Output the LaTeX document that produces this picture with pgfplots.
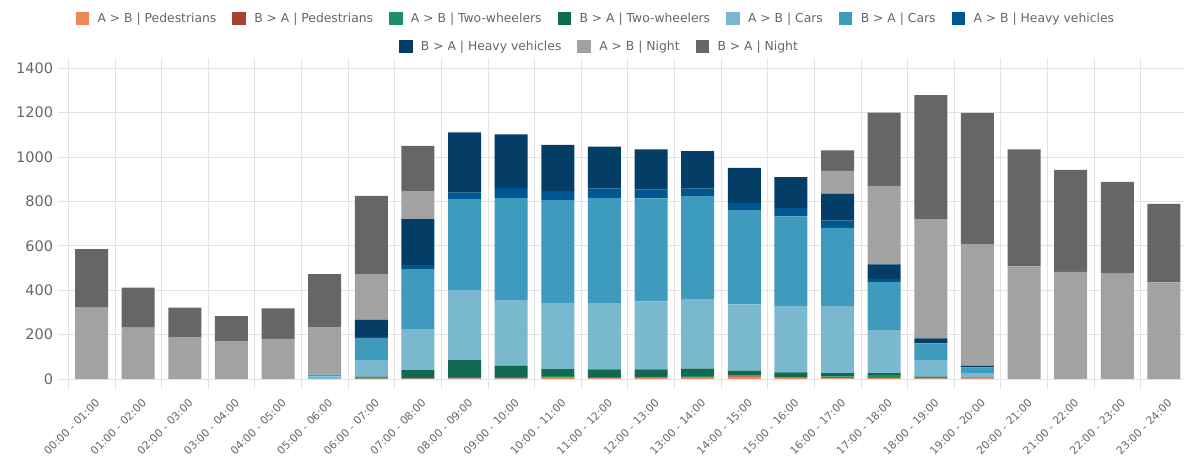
\documentclass[border=0pt]{standalone}
\usepackage{fontspec}
\setmainfont{DejaVu Sans}
\usepackage{pgfplots}
\pgfplotsset{compat=1.18}
\definecolor{pedA}{HTML}{F0865C}
\definecolor{pedB}{HTML}{A64230}
\definecolor{twA}{HTML}{1F8E64}
\definecolor{twB}{HTML}{11694F}
\definecolor{carA}{HTML}{7AB8CF}
\definecolor{carB}{HTML}{3E9BBE}
\definecolor{hvA}{HTML}{005691}
\definecolor{hvB}{HTML}{043E66}
\definecolor{ntA}{HTML}{A2A2A2}
\definecolor{ntB}{HTML}{666666}
\definecolor{gridc}{HTML}{E3E3E3}
\definecolor{txt}{HTML}{666666}
\pgfplotsset{
  boxlegend/.style={legend image code/.code={\fill[##1] (0bp,-6.5bp) rectangle (13.5bp,6.5bp);}},
  mylegend/.style={
    legend style={draw=none, fill=none, inner sep=0pt, outer sep=0pt,
      font=\fontsize{12.35bp}{14bp}\selectfont, text=txt,
      nodes={inner sep=0pt, text=txt},
      /tikz/every odd column/.append style={column sep=8.4bp},
      /tikz/every even column/.append style={column sep=16bp}},
  },
  common/.style={
    at={(68.3bp,78bp)}, anchor=south west,
    scale only axis, width=1115.7bp, height=310.7bp,
    xmin=-0.5, xmax=23.43, ymin=0, ymax=1400,
  }
}
\begin{document}
\begin{tikzpicture}
\useasboundingbox (0,0) rectangle (1184bp,457bp);
\begin{axis}[
  common, mylegend,
  ybar stacked, bar width=33bp,
  every axis plot post/.append style={boxlegend},
  axis line style={draw=none},
  ytick={0,200,...,1400},
  xtick={-0.5,0.5,...,23.5},
  xticklabels={},
  extra x ticks={0,...,23},
  extra x tick labels={00:00 - 01:00,01:00 - 02:00,02:00 - 03:00,03:00 - 04:00,04:00 - 05:00,05:00 - 06:00,06:00 - 07:00,07:00 - 08:00,08:00 - 09:00,09:00 - 10:00,10:00 - 11:00,11:00 - 12:00,12:00 - 13:00,13:00 - 14:00,14:00 - 15:00,15:00 - 16:00,16:00 - 17:00,17:00 - 18:00,18:00 - 19:00,19:00 - 20:00,20:00 - 21:00,21:00 - 22:00,22:00 - 23:00,23:00 - 24:00},
  extra x tick style={major tick length=0pt, grid=none,
    xticklabel style={font=\fontsize{10.8bp}{12bp}\selectfont, text=txt, inner sep=0pt,
      xshift=6bp, yshift=-22bp, rotate=45, anchor=east}},
  xmajorgrids, ymajorgrids,
  grid style={draw=gridc, line width=0.8bp},
  major tick length=10bp, tick align=outside,
  tick style={draw=gridc, line width=0.8bp},
  yticklabel style={font=\fontsize{14.5bp}{16bp}\selectfont, text=txt, inner sep=0pt, anchor=east, xshift=-5bp},
  /pgf/number format/assume math mode=true,
  /pgf/number format/1000 sep={},
  legend columns=7,
  legend style={at={(rel axis cs:0.00663,1.1587)}, anchor=west},
]
% order: pedA pedB twA twB carA carB hvA hvB ntA ntB
\addplot[fill=pedA, draw=none] coordinates {(0,0)(1,0)(2,0)(3,0)(4,0)(5,0)(6,1)(7,1)(8,2)(9,2)(10,6)(11,3)(12,5)(13,6)(14,10)(15,4)(16,3)(17,4)(18,2)(19,3)(20,0)(21,0)(22,0)(23,0)};
\addplot[fill=pedB, draw=none] coordinates {(0,0)(1,0)(2,0)(3,0)(4,0)(5,0)(6,1)(7,1)(8,1)(9,1)(10,2)(11,1)(12,1)(13,2)(14,2)(15,2)(16,1)(17,1)(18,1)(19,1)(20,0)(21,0)(22,0)(23,0)};
\addplot[fill=twA, draw=none] coordinates {(0,0)(1,0)(2,0)(3,0)(4,0)(5,0)(6,4)(7,3)(8,5)(9,5)(10,5)(11,5)(12,4)(13,5)(14,3)(15,4)(16,8)(17,12)(18,5)(19,1)(20,0)(21,0)(22,0)(23,0)};
\addplot[fill=twB, draw=none] coordinates {(0,0)(1,0)(2,0)(3,0)(4,0)(5,0)(6,4)(7,35)(8,77)(9,52)(10,32)(11,34)(12,33)(13,34)(14,23)(15,20)(16,14)(17,9)(18,2)(19,1)(20,0)(21,0)(22,0)(23,0)};
\addplot[fill=carA, draw=none] coordinates {(0,0)(1,0)(2,0)(3,0)(4,0)(5,12)(6,75)(7,185)(8,315)(9,295)(10,297)(11,299)(12,307)(13,313)(14,298)(15,300)(16,302)(17,194)(18,75)(19,20)(20,0)(21,0)(22,0)(23,0)};
\addplot[fill=carB, draw=none] coordinates {(0,0)(1,0)(2,0)(3,0)(4,0)(5,8)(6,97)(7,270)(8,408)(9,461)(10,464)(11,474)(12,464)(13,462)(14,423)(15,403)(16,353)(17,216)(18,75)(19,26)(20,0)(21,0)(22,0)(23,0)};
\addplot[fill=hvA, draw=none] coordinates {(0,0)(1,0)(2,0)(3,0)(4,0)(5,0)(6,8)(7,18)(8,32)(9,45)(10,40)(11,42)(12,39)(13,36)(14,35)(15,38)(16,33)(17,14)(18,3)(19,3)(20,0)(21,0)(22,0)(23,0)};
\addplot[fill=hvB, draw=none] coordinates {(0,0)(1,0)(2,0)(3,0)(4,0)(5,0)(6,76)(7,207)(8,270)(9,241)(10,209)(11,189)(12,182)(13,169)(14,157)(15,139)(16,121)(17,66)(18,20)(19,5)(20,0)(21,0)(22,0)(23,0)};
\addplot[fill=ntA, draw=none] coordinates {(0,322)(1,232)(2,189)(3,171)(4,181)(5,214)(6,206)(7,127)(8,2)(9,0)(10,0)(11,0)(12,0)(13,0)(14,0)(15,0)(16,103)(17,354)(18,537)(19,545)(20,508)(21,483)(22,475)(23,435)};
\addplot[fill=ntB, draw=none] coordinates {(0,263)(1,180)(2,133)(3,112)(4,137)(5,238)(6,353)(7,203)(8,1)(9,0)(10,0)(11,0)(12,0)(13,0)(14,0)(15,0)(16,92)(17,330)(18,559)(19,594)(20,527)(21,459)(22,413)(23,354)};
\legend{A > B | Pedestrians, B > A | Pedestrians, A > B | Two-wheelers, B > A | Two-wheelers, A > B | Cars, B > A | Cars, A > B | Heavy vehicles}
\end{axis}
\begin{axis}[
  common, mylegend, boxlegend, hide axis,
  legend columns=3,
  legend style={at={(rel axis cs:0.2964,1.0695)}, anchor=west},
]
\addlegendimage{fill=hvB, draw=none}
\addlegendentry{B > A | Heavy vehicles}
\addlegendimage{fill=ntA, draw=none}
\addlegendentry{A > B | Night}
\addlegendimage{fill=ntB, draw=none}
\addlegendentry{B > A | Night}
\end{axis}
\end{tikzpicture}
\end{document}
